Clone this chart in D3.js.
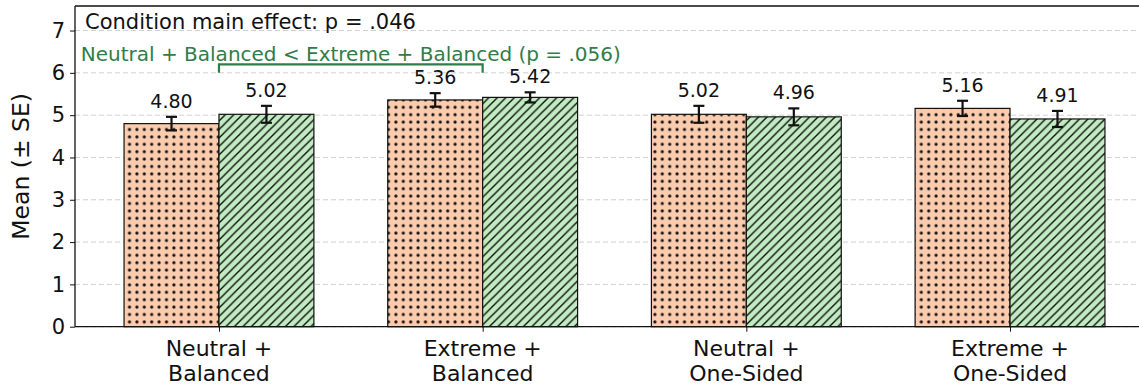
<!DOCTYPE html>
<html>
<head>
<meta charset="utf-8">
<script src="https://cdn.jsdelivr.net/npm/d3@7"></script>
<style>
  body { margin: 0; background: #fff; }
  svg { display: block; font-family: "DejaVu Sans", sans-serif; }
</style>
</head>
<body>
<div id="chart"></div>
<script>
// Data
const categories = [
    ['Neutral +', 'Balanced'],
    ['Extreme +', 'Balanced'],
    ['Neutral +', 'One-Sided'],
    ['Extreme +', 'One-Sided']
];
const meansA = [4.80, 5.36, 5.02, 5.16];
const seA = [0.16, 0.16, 0.20, 0.18];
const meansB = [5.02, 5.42, 4.96, 4.91];
const seB = [0.20, 0.12, 0.20, 0.19];
const yTicks = [0, 1, 2, 3, 4, 5, 6, 7];
const titleText = 'Condition main effect: p = .046';
const contrastText = 'Neutral + Balanced < Extreme + Balanced (p = .056)';
const contrastPair = [0, 1];

const width = 1139, height = 386;
const barW = 0.36;

const svg = d3.select('#chart')
    .append('svg')
    .attr('width', width)
    .attr('height', height);

// Hatch patterns
const defs = svg.append('defs');
const dots = defs.append('pattern')
    .attr('id', 'dots')
    .attr('patternUnits', 'userSpaceOnUse')
    .attr('width', 7.4)
    .attr('height', 7.4);
dots.append('rect').attr('width', 7.4).attr('height', 7.4).attr('fill', '#fbcbae');
dots.append('circle').attr('cx', 3.7).attr('cy', 3.7).attr('r', 1.6).attr('fill', '#111');

const hs = 8.5;
const hatch = defs.append('pattern')
    .attr('id', 'hatch')
    .attr('patternUnits', 'userSpaceOnUse')
    .attr('width', hs)
    .attr('height', hs);
hatch.append('rect').attr('width', hs).attr('height', hs).attr('fill', '#c1ebc1');
hatch.append('path')
    .attr('d', `M-2,${hs + 2} L${hs + 2},-2 M-2,2 L2,-2 M${hs - 2},${hs + 2} L${hs + 2},${hs - 2}`)
    .attr('stroke', '#111')
    .attr('stroke-width', 1.4);

// Scales
const x = d3.scaleLinear().domain([-0.546, 3.546]).range([75, 1154]);
const y = d3.scaleLinear().domain([0, 7.58]).range([326.7, 6]);

// Grid
svg.append('g')
    .selectAll('line')
    .data(yTicks)
    .join('line')
    .attr('x1', 75).attr('x2', width)
    .attr('y1', d => y(d)).attr('y2', d => y(d))
    .attr('stroke', '#d0d0d0')
    .attr('stroke-width', 1)
    .attr('stroke-dasharray', '5,3');

// Bars
const series = [
    { means: meansA, se: seA, fill: 'url(#dots)', off: -barW },
    { means: meansB, se: seB, fill: 'url(#hatch)', off: 0 }
];

series.forEach(s => {
    const g = svg.append('g');
    g.selectAll('rect')
        .data(s.means)
        .join('rect')
        .attr('x', (d, i) => x(i + s.off))
        .attr('width', x(barW) - x(0))
        .attr('y', d => y(d))
        .attr('height', d => y(0) - y(d))
        .attr('fill', s.fill)
        .attr('stroke', '#111')
        .attr('stroke-width', 1.2);

    // Error bars
    const eb = g.append('g').attr('stroke', '#111').attr('stroke-width', 2.2);
    s.means.forEach((m, i) => {
        const cx = x(i + s.off + barW / 2);
        eb.append('line').attr('x1', cx).attr('x2', cx).attr('y1', y(m - s.se[i])).attr('y2', y(m + s.se[i]));
        [m - s.se[i], m + s.se[i]].forEach(v => {
            eb.append('line').attr('x1', cx - 5.5).attr('x2', cx + 5.5).attr('y1', y(v)).attr('y2', y(v));
        });
    });

    // Value labels
    g.selectAll('text')
        .data(s.means)
        .join('text')
        .attr('x', (d, i) => x(i + s.off + barW / 2))
        .attr('y', (d, i) => y(d + s.se[i]) - 9)
        .attr('text-anchor', 'middle')
        .attr('font-size', 19)
        .attr('fill', '#111')
        .text(d => d.toFixed(2));
});

// Axes
const yAxis = svg.append('g')
    .attr('transform', 'translate(75,0)')
    .call(d3.axisLeft(y).tickValues(yTicks).tickSize(5).tickPadding(5).tickFormat(d3.format('d')));
yAxis.select('.domain').remove();
yAxis.selectAll('text').attr('font-size', 21).attr('fill', '#111').attr('font-family', 'DejaVu Sans');
yAxis.selectAll('line').attr('stroke', '#111');

const xAxis = svg.append('g')
    .attr('transform', `translate(0,${y(0)})`)
    .call(d3.axisBottom(x).tickValues(d3.range(categories.length)).tickSize(5).tickFormat(''));
xAxis.select('.domain').remove();
xAxis.selectAll('line').attr('stroke', '#111');

const xl = svg.append('g')
    .selectAll('text')
    .data(categories)
    .join('text')
    .attr('x', (d, i) => x(i))
    .attr('y', 356)
    .attr('text-anchor', 'middle')
    .attr('font-size', 22)
    .attr('fill', '#111');
xl.selectAll('tspan')
    .data(d => d)
    .join('tspan')
    .attr('x', function () { return d3.select(this.parentNode).attr('x'); })
    .attr('dy', (d, i) => i === 0 ? 0 : 25)
    .text(d => d);

// Spines
svg.append('line').attr('x1', 75).attr('x2', 75).attr('y1', 6).attr('y2', y(0)).attr('stroke', '#111').attr('stroke-width', 1.3);
svg.append('line').attr('x1', 75).attr('x2', width).attr('y1', y(0)).attr('y2', y(0)).attr('stroke', '#111').attr('stroke-width', 1.3);
svg.append('line').attr('x1', 75).attr('x2', width).attr('y1', 6).attr('y2', 6).attr('stroke', '#111').attr('stroke-width', 1.3);

// Y label
svg.append('text')
    .attr('transform', `translate(29,${(y(0) + 6) / 2}) rotate(-90)`)
    .attr('text-anchor', 'middle')
    .attr('font-size', 23.5)
    .attr('fill', '#111')
    .text('Mean (± SE)');

// Title inside axes
svg.append('text')
    .attr('x', 85)
    .attr('y', 29)
    .attr('font-size', 21)
    .attr('fill', '#111')
    .text(titleText);

// Contrast bracket
const green = '#2f7d48';
const bx0 = x(contrastPair[0]), bx1 = x(contrastPair[1]);
svg.append('path')
    .attr('d', `M${bx0},${y(6.0)} L${bx0},${y(6.2)} L${bx1},${y(6.2)} L${bx1},${y(6.0)}`)
    .attr('fill', 'none')
    .attr('stroke', green)
    .attr('stroke-width', 2.2);
svg.append('text')
    .attr('x', (bx0 + bx1) / 2)
    .attr('y', 61)
    .attr('text-anchor', 'middle')
    .attr('font-size', 20)
    .attr('fill', green)
    .text(contrastText);
</script>
</body>
</html>
